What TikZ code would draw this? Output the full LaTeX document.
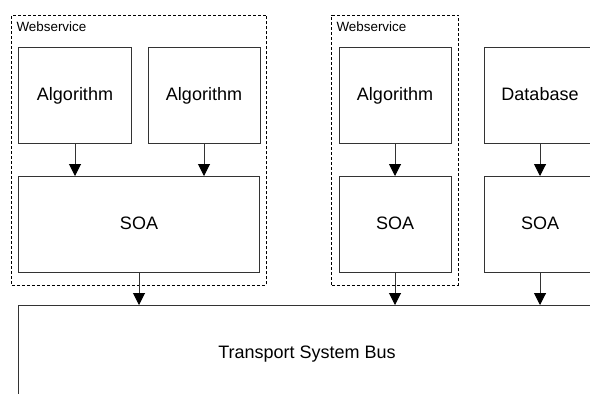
\documentclass[tikz,border=0pt]{standalone}
\usepackage{fontspec}
\setmainfont{Liberation Sans}
\usetikzlibrary{positioning,arrows.meta,fit}

\begin{document}
\begin{tikzpicture}[x=1bp,y=-1bp,
  box/.style={draw=black!80,line width=1bp,minimum width=112bp,minimum height=96bp,inner sep=0pt,text height=15bp,text depth=4.6bp,font=\fontsize{18bp}{22bp}\selectfont},
  group/.style={draw,dash pattern=on 3bp off 2bp,line width=0.9bp,inner xsep=6.7bp,inner ysep=12bp},
  tag/.style={anchor=north west,inner sep=0pt,font=\fontsize{13.4bp}{16bp}\selectfont},
  line/.style={-{Triangle[width=12bp,length=12bp,color=black]},line width=1bp,draw=black!80}]
\path[use as bounding box,clip] (0,0) rectangle (590,393);
% first webservice
\node[box] (alg1) at (75,95.5) {Algorithm};
\node[box,right=16bp of alg1] (alg2) {Algorithm};
\node[box,minimum width=240bp,anchor=north west] (soa1) at ([yshift=-32bp]alg1.south west) {SOA};
% second webservice and the database
\node[box] (alg3) at (395,95.5) {Algorithm};
\node[box,right=32bp of alg3] (db) {Database};
\node[box,below=32bp of alg3] (soa3) {SOA};
\node[box,below=32bp of db] (soa4) {SOA};
% bus
\node[box,minimum width=576bp,anchor=north west] (bus) at ([yshift=-32bp]soa1.south west) {Transport System Bus};
% groups
\node[group,fit={([yshift=20bp]alg1.north west)(soa1.south east)}] (ws1) {};
\node[group,fit={([yshift=20bp]alg3.north west)(soa3.south east)}] (ws2) {};
\node[tag] (lbl1) at ([shift={(5,7.5)}]ws1.north west) {Webservice};
\node[tag] (lbl2) at ([shift={(5,7.5)}]ws2.north west) {Webservice};
\draw[line] (alg1) -- (alg1 |- soa1.north);\draw[line] (alg2) -- (alg2 |- soa1.north);
\draw[line] (alg3) -- (soa3);\draw[line] (db) -- (soa4);
\draw[line] (soa1) -- (soa1 |- bus.north);\draw[line] (soa3) -- (soa3 |- bus.north);\draw[line] (soa4) -- (soa4 |- bus.north);
\end{tikzpicture}
\end{document}
